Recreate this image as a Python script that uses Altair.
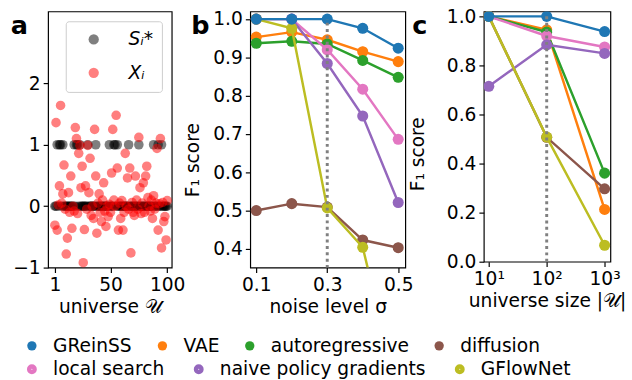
import altair as alt
import pandas as pd

FONT = "DejaVu Sans"
FS = 19

# ---------------- panel a data ----------------
universe_idx = list(range(1, 101))
s_star_one_idx = [3, 5, 6, 8, 18, 20, 21, 23, 30, 37, 49, 53, 54, 56, 66, 75, 88, 92, 95]
s_star = [1 if i in s_star_one_idx else 0 for i in universe_idx]
x_obs = [
    -0.31, 1.36, -0.39, 0.02, 0.33, 1.64, 0.05, 0.20, 0.67, -0.05,
    -0.78, -0.52, 0.22, -0.10, 0.49, -0.36, 0.00, -0.08, 1.28, 1.10,
    -0.12, 0.86, 0.99, 0.30, 0.65, -0.92, -0.38, 0.33, -0.05, 0.99,
    0.22, 0.78, -0.15, 0.00, -0.20, 1.25, 0.49, -0.44, 0.05, 0.20,
    -0.10, -0.25, 0.10, 0.38, -0.08, -0.33, 0.00, -0.17, 0.03, -0.10,
    0.54, 1.25, 0.10, 0.00, 1.48, 0.62, -0.39, 0.05, -0.20, 0.09,
    -0.39, -0.10, 0.86, 0.00, 0.46, -0.05, 0.62, -0.76, 0.06, -0.10,
    -0.15, 0.49, 0.10, -0.05, 1.12, 0.30, -0.12, 0.05, 0.38, -0.10,
    0.49, 0.65, 0.14, 0.00, -0.08, 0.10, -0.20, 0.17, -0.05, 0.05,
    0.94, -0.39, 0.04, 1.10, -0.68, 0.06, -0.25, -0.17, -0.55, 0.09,
]
a_series = ["S", "X"]
a_colors = ["black", "red"]

# ---------------- panels b, c data ----------------
methods = ["GReinSS", "VAE", "autoregressive", "diffusion",
           "local search", "naive policy gradients", "GFlowNet"]
colors = ["#1f77b4", "#ff7f0e", "#2ca02c", "#8c564b",
          "#e377c2", "#9467bd", "#bcbd22"]
legend_row1 = methods[:4]
legend_row2 = methods[4:]
draw_order = ["VAE", "autoregressive", "diffusion", "local search",
              "naive policy gradients", "GFlowNet", "GReinSS"]

noise_levels = [0.1, 0.2, 0.3, 0.4, 0.5]
f1_noise = {
    "GReinSS": [1.000, 1.000, 1.000, 0.976, 0.924],
    "VAE": [0.953, 0.966, 0.946, 0.915, 0.889],
    "autoregressive": [0.937, 0.942, 0.935, 0.892, 0.848],
    "diffusion": [0.500, 0.518, 0.509, 0.423, 0.403],
    "local search": [1.000, 1.000, 0.920, 0.817, 0.686],
    "naive policy gradients": [1.000, 1.000, 0.884, 0.747, 0.521],
    "GFlowNet": [1.000, 0.976, 0.507, 0.404, 0.020],
}
universe_sizes = [10, 100, 1000]
f1_size = {
    "GReinSS": [1.000, 1.000, 0.938],
    "VAE": [1.000, 0.945, 0.213],
    "autoregressive": [1.000, 0.936, 0.361],
    "diffusion": [1.000, 0.507, 0.297],
    "local search": [1.000, 0.920, 0.875],
    "naive policy gradients": [0.715, 0.884, 0.849],
    "GFlowNet": [1.000, 0.508, 0.067],
}
vline_noise = [0.3]
vline_size = [100]

# ---------------- build tables ----------------
df_a = pd.DataFrame({
    "i": universe_idx + universe_idx,
    "v": s_star + x_obs,
    "series": ["S"] * 100 + ["X"] * 100,
})
df_b = pd.DataFrame([
    {"method": m, "x": x, "f1": v}
    for m in methods for x, v in zip(noise_levels, f1_noise[m])
])
df_c = pd.DataFrame([
    {"method": m, "x": x, "f1": v}
    for m in methods for x, v in zip(universe_sizes, f1_size[m])
])

color_scale = alt.Scale(domain=methods, range=colors)


def letter(ch, dx):
    return alt.Chart(pd.DataFrame({"t": [ch]})).mark_text(
        fontSize=26, fontWeight="bold", align="left", baseline="alphabetic",
        color="black", font=FONT,
    ).encode(text="t:N", x=alt.value(dx), y=alt.value(23))


# ---------------- panel a ----------------
scatter_a = alt.Chart(df_a).mark_circle(size=95, opacity=0.5).encode(
    x=alt.X("i:Q", scale=alt.Scale(domain=[-5, 104], nice=False, zero=False),
            axis=alt.Axis(values=[1, 50, 100], title="universe 𝒰")),
    y=alt.Y("v:Q", scale=alt.Scale(domain=[-1, 3.17], nice=False, zero=False),
            axis=alt.Axis(values=[-1, 0, 1, 2], title=None)),
    color=alt.Color("series:N", scale=alt.Scale(domain=a_series, range=a_colors),
                    legend=alt.Legend(
                        title=None, orient="top-right", offset=10,
                        labelExpr="datum.value == 'S' ? 'Sᵢ*' : 'Xᵢ'",
                        labelFontStyle="italic", labelFontSize=FS,
                        symbolType="circle", symbolSize=110, symbolOpacity=0.5,
                        symbolStrokeWidth=0, symbolOffset=10,
                        labelOffset=26, rowPadding=14, padding=9,
                        strokeColor="#cccccc", fillColor="white", cornerRadius=3)),
)
panel_a = alt.layer(scatter_a, letter("a", -38)).properties(width=126, height=261)


def line_panel(df, xscale, xaxis, yscale, yaxis, vline_vals, with_legend, ch, letter_dx):
    layers = []
    if with_legend:
        common = dict(title=None, orient="none", direction="horizontal",
                      symbolType="circle", labelFontSize=FS, columnPadding=21,
                      labelOffset=12, padding=0, labelLimit=400, symbolOpacity=1)
        leg1 = alt.Legend(legendX=-232, legendY=331, symbolSize=90,
                          symbolStrokeWidth=0, **common)
        leg2 = alt.Legend(legendX=-232, legendY=355, symbolSize=20,
                          symbolStrokeWidth=5.6, **common)
        # legend carriers, drawn first and hidden below the real points
        layers.append(alt.Chart(df[df["method"].isin(legend_row1)]).mark_circle(
            size=100, opacity=1, clip=True).encode(
            x=alt.X("x:Q", scale=xscale, axis=xaxis),
            y=alt.Y("f1:Q", scale=yscale, axis=yaxis),
            fill=alt.Fill("method:N", scale=alt.Scale(domain=legend_row1, range=colors[:4]),
                          legend=leg1),
        ))
        layers.append(alt.Chart(df[df["method"].isin(legend_row2)]).mark_point(
            size=20, filled=False, opacity=1, clip=True).encode(
            x=alt.X("x:Q", scale=xscale, axis=xaxis),
            y=alt.Y("f1:Q", scale=yscale, axis=yaxis),
            stroke=alt.Stroke("method:N", scale=alt.Scale(domain=legend_row2, range=colors[4:]),
                              legend=leg2),
        ))
    for m in draw_order:
        sub = df[df["method"] == m]
        base = alt.Chart(sub).encode(
            x=alt.X("x:Q", scale=xscale, axis=xaxis),
            y=alt.Y("f1:Q", scale=yscale, axis=yaxis),
        )
        layers.append(base.mark_line(strokeWidth=2.5, clip=True).encode(
            color=alt.Color("method:N", scale=color_scale, legend=None)))
        layers.append(base.mark_circle(size=127, opacity=1, clip=True).encode(
            color=alt.Color("method:N", scale=color_scale, legend=None)))
    vdf = pd.DataFrame({"x": vline_vals, "y0": [0.0] * len(vline_vals), "y1": [1.0] * len(vline_vals)})
    rule = alt.Chart(vdf).mark_rule(color="#808080", strokeWidth=3,
                                    strokeDash=[3, 3.5], clip=True).encode(
        x=alt.X("x:Q", scale=xscale),
        y=alt.Y("y0:Q", scale=yscale),
        y2="y1:Q",
    )
    layers.append(rule)
    layers.append(letter(ch, letter_dx))
    return alt.layer(*layers)


panel_b = line_panel(
    df_b,
    alt.Scale(domain=[0.083, 0.52], nice=False, zero=False),
    alt.Axis(values=noise_levels, format=".1f", title="noise level σ", labelOverlap=False),
    alt.Scale(domain=[0.351, 1.02], nice=False, zero=False),
    alt.Axis(values=[0.4, 0.5, 0.6, 0.7, 0.8, 0.9, 1.0], format=".1f",
             title="F₁ score", titleX=-59, titleY=151, titleBaseline="middle"),
    vline_noise, True, "b", -60,
).properties(width=158, height=261)

panel_c = line_panel(
    df_c,
    alt.Scale(type="log", domain=[8.2, 1260], nice=False),
    alt.Axis(values=universe_sizes, title="universe size |𝒰|", labelOverlap=False,
             labelExpr="datum.value == 10 ? '10¹' : (datum.value == 100 ? '10²' : '10³')"),
    alt.Scale(domain=[0, 1.02], nice=False, zero=False),
    alt.Axis(values=[0.0, 0.2, 0.4, 0.6, 0.8, 1.0], format=".1f",
             title="F₁ score", titleX=-67, titleY=145, titleBaseline="middle"),
    vline_size, False, "c", -73,
).properties(width=129, height=255)

chart = alt.hconcat(panel_a, panel_b, panel_c, spacing=80, bounds="flush").resolve_scale(
    color="independent", fill="independent", stroke="independent"
).resolve_legend(
    color="independent", fill="independent", stroke="independent"
).properties(
    padding={"left": 10, "top": 3, "right": 5, "bottom": 0},
    background="white",
).configure(
    font=FONT,
).configure_axis(
    grid=False, domain=False, tickColor="black", tickSize=5, tickWidth=1.2,
    labelColor="black", labelFontSize=FS, labelFont=FONT, labelPadding=3,
    titleColor="black", titleFontSize=FS, titleFont=FONT, titleFontWeight="normal",
    titlePadding=4,
).configure_view(
    stroke="black", strokeWidth=1.2,
).configure_legend(
    labelFont=FONT, labelColor="black",
)

chart.save("out.html", embed_options={"renderer": "svg", "actions": False})
